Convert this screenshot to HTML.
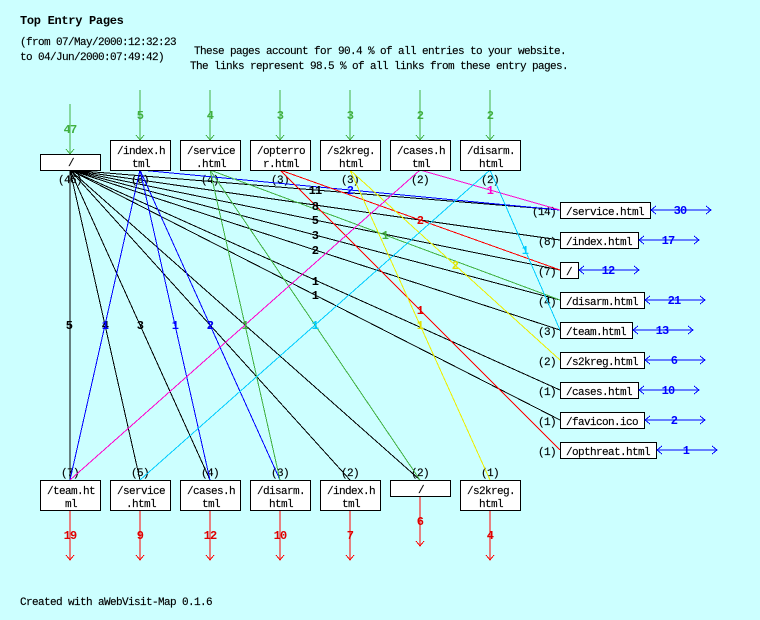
<!DOCTYPE html>
<html><head><meta charset="utf-8"><style>
html,body{margin:0;padding:0;background:#ccffff;}
svg{display:block;}
text{font-family:"Liberation Mono",monospace;}
.t{font-size:11px;letter-spacing:-0.6px;fill:#000;stroke:#000;stroke-width:0.15px;}
.b{font-size:12px;font-weight:bold;letter-spacing:-0.8px;}
line,polyline{shape-rendering:crispEdges;}
</style></head><body>
<svg width="760" height="620" viewBox="0 0 760 620" xmlns="http://www.w3.org/2000/svg">
<rect width="760" height="620" fill="#ccffff"/>
<text x="20" y="24" style="font-size:12px;font-weight:bold;letter-spacing:-0.3px">Top Entry Pages</text>
<text class="t" x="20" y="45">(from 07/May/2000:12:32:23</text>
<text class="t" x="20" y="60">to 04/Jun/2000:07:49:42)</text>
<text class="t" x="380" y="54" text-anchor="middle">These pages account for 90.4 % of all entries to your website.</text>
<text class="t" x="379" y="69" text-anchor="middle">The links represent 98.5 % of all links from these entry pages.</text>

<!-- top counts -->
<g text-anchor="middle">
<text class="t" x="70" y="183">(46)</text>
<text class="t" x="140" y="183">(6)</text>
<text class="t" x="210" y="183">(4)</text>
<text class="t" x="280" y="183">(3)</text>
<text class="t" x="350" y="183">(3)</text>
<text class="t" x="420" y="183">(2)</text>
<text class="t" x="490" y="183">(2)</text>
</g>
<!-- right counts -->
<g text-anchor="end">
<text class="t" x="556" y="215">(14)</text>
<text class="t" x="556" y="245">(8)</text>
<text class="t" x="556" y="275">(7)</text>
<text class="t" x="556" y="305">(4)</text>
<text class="t" x="556" y="335">(3)</text>
<text class="t" x="556" y="365">(2)</text>
<text class="t" x="556" y="395">(1)</text>
<text class="t" x="556" y="425">(1)</text>
<text class="t" x="556" y="455">(1)</text>
</g>
<!-- bottom counts -->
<g text-anchor="middle">
<text class="t" x="70" y="476">(7)</text>
<text class="t" x="140" y="476">(5)</text>
<text class="t" x="210" y="476">(4)</text>
<text class="t" x="280" y="476">(3)</text>
<text class="t" x="350" y="476">(2)</text>
<text class="t" x="420" y="476">(2)</text>
<text class="t" x="490" y="476">(1)</text>
</g>

<!-- edges -->
<g stroke-width="1" fill="none">
<g stroke="#000">
<line x1="70" y1="170" x2="560" y2="210"/>
<line x1="70" y1="170" x2="560" y2="240"/>
<line x1="70" y1="170" x2="560" y2="270"/>
<line x1="70" y1="170" x2="560" y2="300"/>
<line x1="70" y1="170" x2="560" y2="330"/>
<line x1="70" y1="170" x2="560" y2="390"/>
<line x1="70" y1="170" x2="560" y2="420"/>
<line x1="70" y1="170" x2="70" y2="480"/>
<line x1="70" y1="170" x2="140" y2="480"/>
<line x1="70" y1="170" x2="210" y2="480"/>
<line x1="70" y1="170" x2="350" y2="480"/>
<line x1="70" y1="170" x2="420" y2="480"/>
</g>
<g stroke="#0000ff">
<line x1="140" y1="170" x2="560" y2="210"/>
<line x1="140" y1="170" x2="70" y2="480"/>
<line x1="140" y1="170" x2="210" y2="480"/>
<line x1="140" y1="170" x2="280" y2="480"/>
</g>
<g stroke="#40b040">
<line x1="210" y1="170" x2="560" y2="300"/>
<line x1="210" y1="170" x2="280" y2="480"/>
<line x1="210" y1="170" x2="420" y2="480"/>
</g>
<g stroke="#ff0000">
<line x1="280" y1="170" x2="560" y2="270"/>
<line x1="280" y1="170" x2="560" y2="450"/>
</g>
<g stroke="#eeee00">
<line x1="350" y1="170" x2="560" y2="360"/>
<line x1="350" y1="170" x2="490" y2="480"/>
</g>
<g stroke="#ff00cc">
<line x1="420" y1="170" x2="560" y2="210"/>
<line x1="420" y1="170" x2="70" y2="480"/>
</g>
<g stroke="#00ccff">
<line x1="490" y1="170" x2="560" y2="330"/>
<line x1="490" y1="170" x2="140" y2="480"/>
</g>
</g>

<!-- edge labels -->
<g text-anchor="middle">
<text class="b" x="315" y="194" fill="#000">11</text>
<text class="b" x="315" y="210" fill="#000">8</text>
<text class="b" x="315" y="224" fill="#000">5</text>
<text class="b" x="315" y="239" fill="#000">3</text>
<text class="b" x="315" y="254" fill="#000">2</text>
<text class="b" x="315" y="285" fill="#000">1</text>
<text class="b" x="315" y="299" fill="#000">1</text>
<text class="b" x="69" y="329" fill="#000">5</text>
<text class="b" x="105" y="329" fill="#000">4</text>
<text class="b" x="140" y="329" fill="#000">3</text>
<text class="b" x="210" y="329" fill="#000">2</text>
<text class="b" x="245" y="329" fill="#000">1</text>
<text class="b" x="350" y="194" fill="#0000ff">2</text>
<text class="b" x="105" y="329" fill="#0000ff">1</text>
<text class="b" x="175" y="329" fill="#0000ff">1</text>
<text class="b" x="210" y="329" fill="#0000ff">2</text>
<text class="b" x="245" y="329" fill="#ff00cc">1</text>
<text class="b" x="245" y="329" fill="#40b040">1</text>
<text class="b" x="385" y="239" fill="#40b040">1</text>
<text class="b" x="315" y="329" fill="#40b040">1</text>
<text class="b" x="420" y="224" fill="#e00000">2</text>
<text class="b" x="420" y="314" fill="#e00000">1</text>
<text class="b" x="455" y="269" fill="#e0e000">2</text>
<text class="b" x="420" y="329" fill="#e0e000">1</text>
<text class="b" x="490" y="194" fill="#ff00cc">1</text>
<text class="b" x="525" y="254" fill="#00ccff">1</text>
<text class="b" x="315" y="329" fill="#00ccff">1</text>
</g>

<!-- top entry arrows -->
<g stroke="#40b040" fill="none">
<line x1="70" y1="104" x2="70" y2="154"/><polyline points="66,149 70,154 74,149"/>
<line x1="140" y1="90" x2="140" y2="140"/><polyline points="136,135 140,140 144,135"/>
<line x1="210" y1="90" x2="210" y2="140"/><polyline points="206,135 210,140 214,135"/>
<line x1="280" y1="90" x2="280" y2="140"/><polyline points="276,135 280,140 284,135"/>
<line x1="350" y1="90" x2="350" y2="140"/><polyline points="346,135 350,140 354,135"/>
<line x1="420" y1="90" x2="420" y2="140"/><polyline points="416,135 420,140 424,135"/>
<line x1="490" y1="90" x2="490" y2="140"/><polyline points="486,135 490,140 494,135"/>
</g>
<g text-anchor="middle">
<text class="b" x="70" y="133" fill="#40b040">47</text>
<text class="b" x="140" y="119" fill="#40b040">5</text>
<text class="b" x="210" y="119" fill="#40b040">4</text>
<text class="b" x="280" y="119" fill="#40b040">3</text>
<text class="b" x="350" y="119" fill="#40b040">3</text>
<text class="b" x="420" y="119" fill="#40b040">2</text>
<text class="b" x="490" y="119" fill="#40b040">2</text>
</g>

<!-- top boxes -->
<g fill="#fff" stroke="#000">
<rect x="40.5" y="154.5" width="60" height="16"/>
<rect x="110.5" y="140.5" width="60" height="30"/>
<rect x="180.5" y="140.5" width="60" height="30"/>
<rect x="250.5" y="140.5" width="60" height="30"/>
<rect x="320.5" y="140.5" width="60" height="30"/>
<rect x="390.5" y="140.5" width="60" height="30"/>
<rect x="460.5" y="140.5" width="60" height="30"/>
</g>
<g text-anchor="middle">
<text class="t" x="71" y="166">/</text>
<text class="t" x="141" y="154">/index.h</text><text class="t" x="141" y="167">tml</text>
<text class="t" x="211" y="154">/service</text><text class="t" x="211" y="167">.html</text>
<text class="t" x="281" y="154">/opterro</text><text class="t" x="281" y="167">r.html</text>
<text class="t" x="351" y="154">/s2kreg.</text><text class="t" x="351" y="167">html</text>
<text class="t" x="421" y="154">/cases.h</text><text class="t" x="421" y="167">tml</text>
<text class="t" x="491" y="154">/disarm.</text><text class="t" x="491" y="167">html</text>
</g>

<!-- right boxes -->
<g fill="#fff" stroke="#000">
<rect x="560.5" y="202.5" width="90" height="16"/>
<rect x="560.5" y="232.5" width="78" height="16"/>
<rect x="560.5" y="262.5" width="18" height="16"/>
<rect x="560.5" y="292.5" width="84" height="16"/>
<rect x="560.5" y="322.5" width="72" height="16"/>
<rect x="560.5" y="352.5" width="84" height="16"/>
<rect x="560.5" y="382.5" width="78" height="16"/>
<rect x="560.5" y="412.5" width="84" height="16"/>
<rect x="560.5" y="442.5" width="96" height="16"/>
</g>
<g>
<text class="t" x="566" y="215">/service.html</text>
<text class="t" x="566" y="245">/index.html</text>
<text class="t" x="566" y="275">/</text>
<text class="t" x="566" y="305">/disarm.html</text>
<text class="t" x="566" y="335">/team.html</text>
<text class="t" x="566" y="365">/s2kreg.html</text>
<text class="t" x="566" y="395">/cases.html</text>
<text class="t" x="566" y="425">/favicon.ico</text>
<text class="t" x="566" y="455">/opthreat.html</text>
</g>
<!-- right exit arrows -->
<g stroke="#0000ff" fill="none">
<line x1="651" y1="210" x2="711" y2="210"/><polyline points="656,206 651,210 656,214"/><polyline points="706,206 711,210 706,214"/>
<line x1="639" y1="240" x2="699" y2="240"/><polyline points="644,236 639,240 644,244"/><polyline points="694,236 699,240 694,244"/>
<line x1="579" y1="270" x2="639" y2="270"/><polyline points="584,266 579,270 584,274"/><polyline points="634,266 639,270 634,274"/>
<line x1="645" y1="300" x2="705" y2="300"/><polyline points="650,296 645,300 650,304"/><polyline points="700,296 705,300 700,304"/>
<line x1="633" y1="330" x2="693" y2="330"/><polyline points="638,326 633,330 638,334"/><polyline points="688,326 693,330 688,334"/>
<line x1="645" y1="360" x2="705" y2="360"/><polyline points="650,356 645,360 650,364"/><polyline points="700,356 705,360 700,364"/>
<line x1="639" y1="390" x2="699" y2="390"/><polyline points="644,386 639,390 644,394"/><polyline points="694,386 699,390 694,394"/>
<line x1="645" y1="420" x2="705" y2="420"/><polyline points="650,416 645,420 650,424"/><polyline points="700,416 705,420 700,424"/>
<line x1="657" y1="450" x2="717" y2="450"/><polyline points="662,446 657,450 662,454"/><polyline points="712,446 717,450 712,454"/>
</g>
<g text-anchor="middle">
<text class="b" x="680" y="214" fill="#0000ff">30</text>
<text class="b" x="668" y="244" fill="#0000ff">17</text>
<text class="b" x="608" y="274" fill="#0000ff">12</text>
<text class="b" x="674" y="304" fill="#0000ff">21</text>
<text class="b" x="662" y="334" fill="#0000ff">13</text>
<text class="b" x="674" y="364" fill="#0000ff">6</text>
<text class="b" x="668" y="394" fill="#0000ff">10</text>
<text class="b" x="674" y="424" fill="#0000ff">2</text>
<text class="b" x="686" y="454" fill="#0000ff">1</text>
</g>

<!-- bottom boxes -->
<g fill="#fff" stroke="#000">
<rect x="40.5" y="480.5" width="60" height="30"/>
<rect x="110.5" y="480.5" width="60" height="30"/>
<rect x="180.5" y="480.5" width="60" height="30"/>
<rect x="250.5" y="480.5" width="60" height="30"/>
<rect x="320.5" y="480.5" width="60" height="30"/>
<rect x="390.5" y="480.5" width="60" height="16"/>
<rect x="460.5" y="480.5" width="60" height="30"/>
</g>
<g text-anchor="middle">
<text class="t" x="71" y="494">/team.ht</text><text class="t" x="71" y="507">ml</text>
<text class="t" x="141" y="494">/service</text><text class="t" x="141" y="507">.html</text>
<text class="t" x="211" y="494">/cases.h</text><text class="t" x="211" y="507">tml</text>
<text class="t" x="281" y="494">/disarm.</text><text class="t" x="281" y="507">html</text>
<text class="t" x="351" y="494">/index.h</text><text class="t" x="351" y="507">tml</text>
<text class="t" x="421" y="493">/</text>
<text class="t" x="491" y="494">/s2kreg.</text><text class="t" x="491" y="507">html</text>
</g>
<!-- bottom exit arrows -->
<g stroke="#ff0000" fill="none">
<line x1="70" y1="511" x2="70" y2="560"/><polyline points="66,555 70,560 74,555"/>
<line x1="140" y1="511" x2="140" y2="560"/><polyline points="136,555 140,560 144,555"/>
<line x1="210" y1="511" x2="210" y2="560"/><polyline points="206,555 210,560 214,555"/>
<line x1="280" y1="511" x2="280" y2="560"/><polyline points="276,555 280,560 284,555"/>
<line x1="350" y1="511" x2="350" y2="560"/><polyline points="346,555 350,560 354,555"/>
<line x1="420" y1="497" x2="420" y2="546"/><polyline points="416,541 420,546 424,541"/>
<line x1="490" y1="511" x2="490" y2="560"/><polyline points="486,555 490,560 494,555"/>
</g>
<g text-anchor="middle">
<text class="b" x="70" y="539" fill="#e00000">19</text>
<text class="b" x="140" y="539" fill="#e00000">9</text>
<text class="b" x="210" y="539" fill="#e00000">12</text>
<text class="b" x="280" y="539" fill="#e00000">10</text>
<text class="b" x="350" y="539" fill="#e00000">7</text>
<text class="b" x="420" y="525" fill="#e00000">6</text>
<text class="b" x="490" y="539" fill="#e00000">4</text>
</g>

<text class="t" x="20" y="605">Created with aWebVisit-Map 0.1.6</text>
</svg>
</body></html>
